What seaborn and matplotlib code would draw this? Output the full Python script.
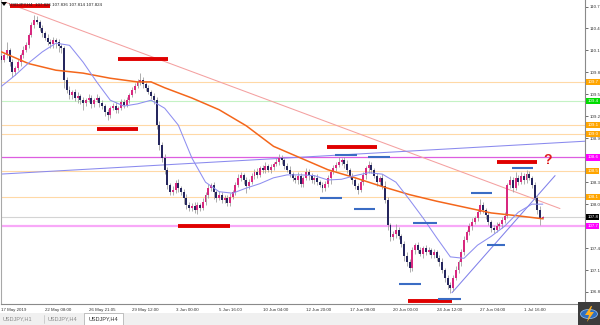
import matplotlib
matplotlib.use("Agg")
import matplotlib.pyplot as plt
import matplotlib.transforms as mtrans
from matplotlib.patches import Rectangle, Circle, Polygon
import numpy as np
import seaborn as sns

# ---------------- data (USDJPY H4) ----------------
first_open = 110.02
closes = [
    109.97, 110.04, 110.11, 109.94, 109.81, 109.86, 109.94, 110.04, 110.11, 110.17,
    110.31, 110.45, 110.52, 110.49, 110.41, 110.34, 110.27, 110.22, 110.19, 110.24,
    110.22, 110.16, 110.13, 109.70, 109.56, 109.49, 109.53, 109.45, 109.48, 109.42,
    109.38, 109.42, 109.45, 109.37, 109.42, 109.45, 109.38, 109.34, 109.26, 109.22,
    109.31, 109.34, 109.29, 109.31, 109.40, 109.36, 109.42, 109.49, 109.56, 109.61,
    109.67, 109.70, 109.64, 109.59, 109.53, 109.48, 109.42, 109.08, 108.81, 108.63,
    108.47, 108.26, 108.17, 108.19, 108.29, 108.22, 108.17, 108.09, 107.99, 107.95,
    107.98, 107.92, 107.99, 107.95, 108.03, 108.13, 108.22, 108.26, 108.17, 108.09,
    108.13, 108.06, 108.09, 108.02, 108.10, 108.17, 108.26, 108.36, 108.40, 108.33,
    108.25, 108.30, 108.39, 108.44, 108.40, 108.49, 108.47, 108.52, 108.47, 108.51,
    108.55, 108.58, 108.63, 108.60, 108.52, 108.47, 108.41, 108.36, 108.33, 108.39,
    108.28, 108.36, 108.44, 108.40, 108.33, 108.36, 108.30, 108.26, 108.22, 108.28,
    108.36, 108.44, 108.49, 108.54, 108.58, 108.60, 108.55, 108.47, 108.39, 108.33,
    108.25, 108.19, 108.30, 108.40, 108.49, 108.54, 108.47, 108.39, 108.30, 108.36,
    108.25, 108.06, 107.71, 107.55, 107.59, 107.65, 107.56, 107.46, 107.29, 107.21,
    107.13, 107.37, 107.44, 107.37, 107.32, 107.40, 107.35, 107.37, 107.31, 107.35,
    107.26, 107.21, 107.10, 106.99, 106.90, 106.86, 106.99, 107.10, 107.21, 107.35,
    107.51, 107.62, 107.70, 107.76, 107.81, 107.89, 107.99, 107.92, 107.85, 107.76,
    107.67, 107.65, 107.70, 107.73, 107.78, 107.84, 108.26, 108.33, 108.22, 108.36,
    108.30, 108.39, 108.33, 108.41, 108.36, 108.26, 108.09, 107.92, 107.81, 107.824,
]
upper_wick_pips = [
    4, 3, 11, 3, 4, 3, 4, 3, 5, 4,
    3, 4, 6, 5, 3, 4, 3, 5, 3, 4,
    3, 4, 3, 3, 4, 5, 3, 4, 5, 3,
    4, 3, 5, 4, 3, 5, 3, 4, 3, 4,
    3, 4, 5, 3, 4, 3, 4, 3, 4, 5,
    4, 9, 4, 3, 4, 3, 4, 5, 6, 4,
    5, 4, 3, 6, 4, 5, 3, 4, 5, 4,
    3, 5, 4, 3, 6, 4, 5, 3, 4, 3,
    5, 4, 3, 4, 5, 3, 4, 5, 4, 3,
    4, 5, 3, 4, 5, 3, 4, 5, 3, 4,
    3, 5, 6, 4, 3, 4, 5, 3, 4, 5,
    4, 3, 5, 4, 3, 4, 5, 3, 4, 3,
    4, 3, 5, 4, 6, 3, 4, 5, 3, 4,
    3, 4, 5, 4, 3, 5, 4, 3, 4, 3,
    5, 6, 4, 3, 5, 8, 4, 3, 4, 5,
    4, 5, 3, 4, 5, 3, 4, 5, 3, 4,
    3, 4, 5, 3, 4, 3, 4, 5, 3, 4,
    5, 3, 4, 5, 3, 4, 8, 4, 3, 4,
    3, 4, 5, 3, 4, 5, 3, 6, 4, 8,
    4, 5, 3, 6, 4, 3, 4, 3, 5, 1,
]
lower_wick_pips = [
    4, 3, 4, 5, 7, 4, 3, 5, 4, 3,
    4, 3, 4, 3, 4, 5, 3, 4, 5, 6,
    8, 8, 6, 11, 4, 5, 6, 4, 7, 5,
    9, 4, 3, 5, 4, 3, 5, 4, 6, 7,
    4, 3, 5, 4, 3, 4, 3, 4, 3, 4,
    3, 4, 5, 4, 3, 4, 5, 6, 7, 5,
    6, 5, 4, 5, 4, 5, 4, 9, 5, 4,
    5, 4, 5, 4, 3, 4, 5, 4, 10, 6,
    4, 5, 4, 5, 4, 3, 4, 3, 4, 5,
    10, 4, 3, 5, 4, 3, 5, 4, 3, 4,
    4, 3, 4, 5, 4, 3, 4, 5, 4, 5,
    4, 5, 3, 7, 4, 5, 4, 3, 5, 4,
    4, 8, 3, 4, 3, 4, 5, 4, 3, 5,
    4, 5, 3, 4, 5, 6, 4, 3, 5, 4,
    4, 5, 6, 5, 4, 5, 4, 5, 6, 5,
    6, 4, 5, 4, 3, 5, 4, 3, 5, 4,
    4, 5, 4, 5, 6, 8, 4, 3, 4, 5,
    4, 3, 4, 5, 3, 4, 3, 4, 5, 4,
    5, 4, 3, 4, 5, 4, 3, 4, 5, 3,
    4, 3, 5, 4, 3, 4, 5, 6, 10, 1,
]

# moving averages (read at sampled bars)
orange_ma_idx = [0, 10, 20, 30, 40, 50, 55, 60, 70, 80, 90, 100, 110, 120, 130, 140,
                 150, 160, 170, 180, 190, 199]
orange_ma = [110.08, 109.92, 109.83, 109.79, 109.72, 109.67, 109.67, 109.59, 109.45,
             109.29, 109.07, 108.79, 108.63, 108.47, 108.36, 108.24, 108.13, 108.04,
             107.96, 107.88, 107.84, 107.80]
blue_ma_idx = [0, 5, 10, 15, 20, 25, 30, 35, 40, 45, 50, 55, 60, 65, 70, 75, 80, 85,
               90, 95, 100, 105, 110, 115, 120, 125, 130, 135, 140, 145, 150, 155, 160,
               165, 170, 175, 180, 185, 190, 195, 199]
blue_ma = [109.61, 109.76, 109.93, 110.08, 110.20, 110.17, 109.94, 109.67, 109.42,
           109.34, 109.37, 109.42, 109.31, 109.08, 108.63, 108.30, 108.17, 108.15,
           108.22, 108.28, 108.36, 108.40, 108.40, 108.39, 108.33, 108.34, 108.39,
           108.43, 108.41, 108.30, 108.06, 107.81, 107.54, 107.28, 107.26, 107.44,
           107.56, 107.70, 107.89, 108.00, 108.00]

# trend lines (bar index, price)
down_trend_bar = [1.3, 205.3]
down_trend_px = [110.76, 107.94]
flat_trend_bar = [-0.6, 214.5]
flat_trend_px = [108.41, 108.86]
up_trend_bar = [165.6, 203.5]
up_trend_px = [106.79, 108.39]

# horizontal levels
level_prices = [109.67, 109.41, 109.08, 108.96, 108.64, 108.45, 108.10, 107.70]
level_line_colors = ["#ffd9a6", "#c4f2c4", "#ffd9a6", "#ffd9a6", "#dd5ee0",
                     "#ffd9a6", "#ffd9a6", "#f8a8f8"]
level_box_colors = ["#ffa500", "#00dd00", "#ffa500", "#ffa500", "#ff00ff",
                    "#ffa500", "#ffa500", "#ff00ff"]
level_widths = [0.8, 0.8, 0.8, 0.8, 0.9, 0.8, 0.8, 1.6]
bid_price = 107.824

# hand-drawn marks: (start bar, end bar, price)
red_marks = [(3.1, 17.8, 110.71), (42.8, 61.2, 109.98), (35.1, 50.2, 109.03),
             (64.9, 84.0, 107.70), (119.7, 138.1, 108.78), (149.4, 165.6, 106.68),
             (182.2, 196.9, 108.58)]
blue_marks = [(122.6, 130.7, 108.67), (134.7, 142.8, 108.64), (117.1, 125.2, 108.08),
              (129.6, 137.3, 107.93), (151.3, 160.1, 107.74), (146.1, 154.2, 106.91),
              (160.5, 168.9, 106.70), (172.6, 180.3, 108.15), (178.5, 185.1, 107.44),
              (187.7, 195.4, 108.49)]
question_bar, question_price = 200.9, 108.60

y_ticks = [110.7, 110.4, 110.1, 109.8, 109.5, 109.2, 108.9, 108.6, 108.3, 108.0,
           107.7, 107.4, 107.1, 106.8]
# tick labels hidden under the coloured price boxes in the reference
y_ticks_covered = [108.6, 107.7]
date_pos = [0, 16, 32, 48, 64, 80, 96, 112, 128, 144, 160, 176, 192]
date_labels = ["17 May 2019", "22 May 08:00", "26 May 21:05", "29 May 12:00",
               "3 Jun 00:00", "5 Jun 16:00", "10 Jun 04:00", "12 Jun 20:00",
               "17 Jun 08:00", "20 Jun 00:00", "24 Jun 12:00", "27 Jun 04:00",
               "1 Jul 16:00"]
header_text = "USDJPY,H4  107.826 107.836 107.814 107.824"
tab_labels = ["USDJPY,H1", "USDJPY,H4", "USDJPY,H4"]

# ---------------- figure ----------------
sns.set_style("white")
plt.rcParams["font.family"] = ["Liberation Sans", "DejaVu Sans"]

W, H = 600, 325
fig = plt.figure(figsize=(6, 3.25), dpi=100)
fig.patch.set_facecolor("white")
ax = fig.add_axes([1 / W, (H - 304) / H, 584 / W, 304 / H])
ax.set_facecolor("white")
ax.set_xlim(-0.18, 214.5)
ax.set_ylim(106.636, 110.789)

# horizontal levels
for p, lc, lw in zip(level_prices, level_line_colors, level_widths):
    ax.axhline(p, color=lc, lw=lw, zorder=1)
ax.axhline(bid_price, color="#d4d4d4", lw=0.8, zorder=1)

# trend lines
sns.lineplot(x=down_trend_bar, y=down_trend_px, ax=ax, color="#f4a0a0", lw=0.75, zorder=2)
sns.lineplot(x=flat_trend_bar, y=flat_trend_px, ax=ax, color="#8a8aee", lw=0.75, zorder=2)
sns.lineplot(x=up_trend_bar, y=up_trend_px, ax=ax, color="#8080ea", lw=0.75, zorder=2)

# candles
c = np.array(closes)
o = np.concatenate([[first_open], c[:-1]])
hi = np.maximum(o, c) + np.array(upper_wick_pips) * 0.01
lo = np.minimum(o, c) - np.array(lower_wick_pips) * 0.01
xb = np.arange(len(c))
ax.vlines(xb, lo, hi, color="#a0a0a0", lw=0.6, zorder=3)
body_col = np.where(c >= o, "#d8287f", "#25265e")
ax.bar(xb, np.maximum(np.abs(c - o), 0.006), bottom=np.minimum(o, c), width=0.72,
       color=body_col, linewidth=0, zorder=3.5)

# moving averages
sns.lineplot(x=orange_ma_idx, y=orange_ma, ax=ax, color="#f4661b", lw=1.1, zorder=4)
sns.lineplot(x=blue_ma_idx, y=blue_ma, ax=ax, color="#8e8ef0", lw=0.75, zorder=4)

# marks
for s, e, p in red_marks:
    ax.hlines(p, s, e, color="#e00000", lw=2.8, zorder=6)
for s, e, p in blue_marks:
    ax.hlines(p, s, e, color="#3a6cc4", lw=1.5, zorder=6)
ax.text(question_bar, question_price, "?", color="#e02020", fontsize=10,
        fontweight="bold", ha="center", va="center", zorder=6)

# axes styling
ax.spines["top"].set_visible(False)
ax.spines["left"].set_color("#a8a8a8")
ax.spines["right"].set_color("#8a8a8a")
ax.spines["bottom"].set_color("#8a8a8a")
for s in ["left", "right", "bottom"]:
    ax.spines[s].set_linewidth(0.8)
ax.yaxis.tick_right()
ax.set_yticks(y_ticks)
ax.set_yticklabels(["" if v in y_ticks_covered else f"{v:.1f}" for v in y_ticks])
ax.tick_params(axis="y", labelsize=3.2, length=2, width=0.5, pad=1,
               colors="#333333", direction="out")
ax.set_xticks(date_pos)
ax.set_xticklabels(date_labels)
ax.tick_params(axis="x", labelsize=3.2, length=2, width=0.5, pad=1,
               colors="#333333", direction="out")
for lbl in ax.get_xticklabels():
    lbl.set_ha("left")
ax.set_xlabel("")
ax.set_ylabel("")

# price boxes on the axis
trans = mtrans.blended_transform_factory(ax.transAxes, ax.transData)
for p, bc in zip(level_prices, level_box_colors):
    ax.text(1.004, p, f"{p:.1f}", transform=trans, fontsize=3.2, color="white",
            ha="left", va="center", clip_on=False, zorder=10,
            bbox=dict(boxstyle="square,pad=0.28", fc=bc, ec="none"))
ax.text(1.004, bid_price, f"{bid_price:.1f}", transform=trans, fontsize=3.2,
        color="white", ha="left", va="center", clip_on=False, zorder=11,
        bbox=dict(boxstyle="square,pad=0.28", fc="black", ec="none"))

# header
fig.patches.append(Polygon([[1 / W, 1 - 2 / H], [7 / W, 1 - 2 / H], [4 / W, 1 - 6 / H]],
                           closed=True, fc="black", ec="none",
                           transform=fig.transFigure, figure=fig, zorder=8))
fig.text(9 / W, 1 - 4.5 / H, header_text, fontsize=3.2, color="#222222",
         ha="left", va="center", zorder=8)

# tab bar
fig.patches.append(Rectangle((0, 0), 1, 12 / H, fc="#f0f0f0", ec="none",
                             transform=fig.transFigure, figure=fig, zorder=0))
fig.patches.append(Rectangle((84 / W, 0), 39 / W, 12.5 / H, fc="white", ec="#a8a8a8",
                             lw=0.5, transform=fig.transFigure, figure=fig, zorder=1))
fig.lines.append(plt.Line2D([43.5 / W, 43.5 / W], [2 / H, 10 / H], color="#c0c0c0",
                            lw=0.5, transform=fig.transFigure, figure=fig))
fig.text(3 / W, 6 / H, tab_labels[0], fontsize=4.0, color="#8a8a8a", va="center")
fig.text(48 / W, 6 / H, tab_labels[1], fontsize=4.0, color="#8a8a8a", va="center")
fig.text(89 / W, 6 / H, tab_labels[2], fontsize=4.0, color="#333333", va="center",
         zorder=3)

# logo corner
fig.patches.append(Rectangle((578 / W, 0), 22 / W, 23 / H, fc="#3c3c3c", ec="none",
                             transform=fig.transFigure, figure=fig, zorder=2))
cx, cy = 589, 314
fig.patches.append(Circle((cx / W, 1 - cy / H), 8.5 / W, fc="#2f6fc0", ec="#9cc4f0",
                          lw=0.5, transform=fig.transFigure, figure=fig, zorder=3))
bolt = [[591, 306], [585, 315], [589, 315], [587, 322], [594, 312], [590, 312], [592, 306]]
fig.patches.append(Polygon([[x / W, 1 - y / H] for x, y in bolt], closed=True,
                           fc="#ffb020", ec="none", transform=fig.transFigure,
                           figure=fig, zorder=4))

fig.savefig("out.png", dpi=100, facecolor="white")
